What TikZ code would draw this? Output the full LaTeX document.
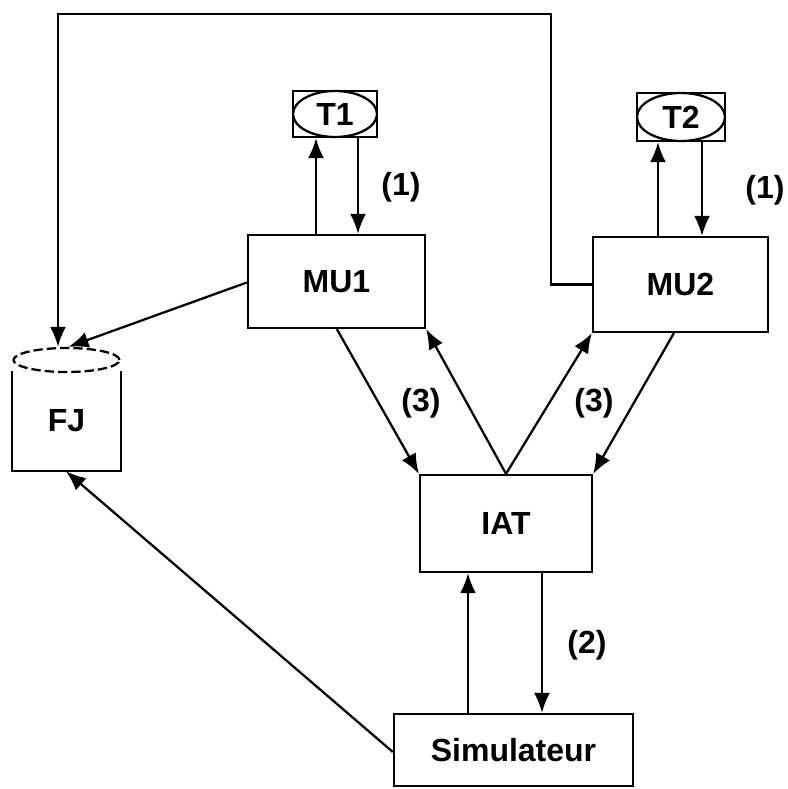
\documentclass[tikz,border=0pt]{standalone}
\usepackage{fontspec}
\setmainfont{Liberation Sans}
\usetikzlibrary{arrows.meta,calc,shapes.geometric}
\begin{document}
\begin{tikzpicture}[x=0.75pt,y=-0.75pt,
  line width=1.7pt,
  txt/.style={font=\fontsize{24}{28}\selectfont\bfseries},
  box/.style={draw,rectangle,inner sep=0pt,txt},
  oval/.style={draw,ellipse,inner sep=0pt,txt},
  arr/.style={-{Latex[length=15pt,width=12pt]}}]
\useasboundingbox (0,0) rectangle (788,789);
% boxes
\node[box,minimum width=132.75pt,minimum height=69.75pt] (mu1) at (336.5,281.5) {MU1};
\node[box,minimum width=131.25pt,minimum height=71.25pt] (mu2) at (680.5,284.5) {MU2};
\node[box,minimum width=129pt,minimum height=72.75pt] (iat) at (506,523.5) {IAT};
\node[box,minimum width=179.25pt,minimum height=54pt] (sim) at (513.5,750) {Simulateur};
% T1, T2
\node[draw,rectangle,minimum width=63pt,minimum height=34.5pt] (t1) at (335,114) {};
\node[oval,minimum width=63pt,minimum height=34.5pt] (t1e) at (t1.center) {T1};
\node[draw,rectangle,minimum width=66pt,minimum height=36pt] (t2) at (681,117) {};
\node[oval,minimum width=66pt,minimum height=36pt] (t2e) at (t2.center) {T2};
% FJ
\node[txt,minimum width=80.25pt,minimum height=73.5pt,inner sep=0pt] (fj) at (66.5,421) {FJ};
\draw (fj.north west) -- (fj.south west) -- (fj.south east) -- (fj.north east);
\node[draw,ellipse,dash pattern=on 7pt off 3pt,minimum width=79.5pt,minimum height=18pt,inner sep=0pt] (fjtop) at (66.5,360) {};
% helper coordinates
\coordinate (c2) at (551,14);
\coordinate (c3) at (58,14);
\coordinate (x1) at (316,0);
\coordinate (x2) at (358,0);
\coordinate (x3) at (658,0);
\coordinate (x4) at (702,0);
\coordinate (x5) at (468,0);
\coordinate (x6) at (542,0);
% connectors
\draw[arr] (mu2.west) -- (mu2.west -| c2) -- (c2) -- (c3) -- (c3 |- fjtop.north);
\draw[arr] ($(mu1.west)+(0,1)$) -- ($(fjtop.north)+(2,0)$);
\draw[arr] (x1 |- mu1.north) -- (x1 |- t1.south);
\draw[arr] (x2 |- t1.south) -- (x2 |- mu1.north);
\draw[arr] (x3 |- mu2.north) -- (x3 |- t2.south);
\draw[arr] (x4 |- t2.south) -- (x4 |- mu2.north);
\draw[arr] ($(mu1.south west)+(90,0)$) -- (iat.north west);
\draw[arr] (iat.north) -- (mu1.south east);
\draw[arr] (iat.north) -- (mu2.south west);
\draw[arr] ($(mu2.south west)+(82,0)$) -- (iat.north east);
\draw[arr] (x5 |- sim.north) -- (x5 |- iat.south);
\draw[arr] (x6 |- iat.south) -- (x6 |- sim.north);
\draw[arr] ($(sim.west)+(0,2)$) -- ($(fj.south west)+(54,0)$);
% labels
\node[txt] (l1a) at (401,187) {(1)};
\node[txt] (l1b) at (765,190) {(1)};
\node[txt] (l3a) at (421,403) {(3)};
\node[txt] (l3b) at (594,403) {(3)};
\node[txt] (l2) at (587,645) {(2)};
\end{tikzpicture}
\end{document}
